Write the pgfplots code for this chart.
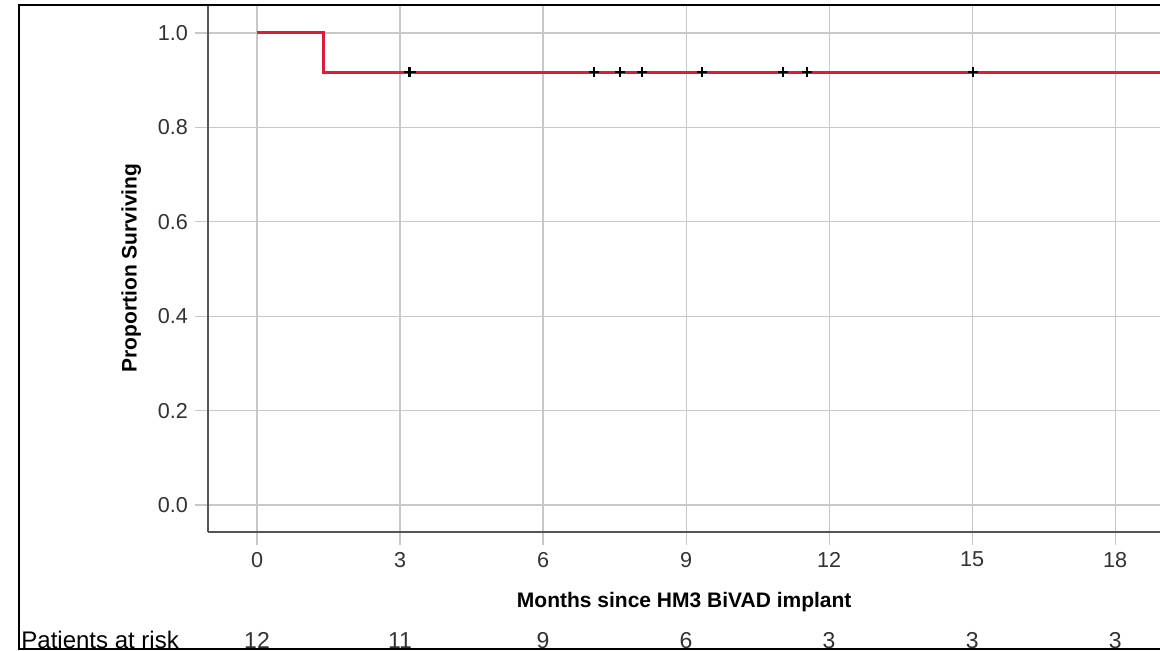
\documentclass[border=0pt]{standalone}
\usepackage{pgfplots}
\pgfplotsset{compat=1.18}
\usepackage{fontspec}
\setmainfont{Liberation Sans}
\definecolor{kmred}{RGB}{218,30,58}
\definecolor{gridgray}{RGB}{200,200,200}
\definecolor{axgray}{RGB}{85,85,85}
\definecolor{txtgray}{RGB}{50,50,50}
\begin{document}
\begin{tikzpicture}
\begin{axis}[
  at={(0,0)}, anchor=south west,
  scale only axis, width=476pt, height=263.5pt,
  xmin=-1.028, xmax=18.94, ymin=-0.0572, ymax=1.0593,
  axis x line*=bottom, axis y line*=left,
  axis line style={axgray, line width=1pt, -},
  xtick={0,3,...,18}, ytick={0,0.2,...,1.0},
  yticklabel={\pgfmathprintnumber[fixed,fixed zerofill,precision=1]{\tick}},
  /pgf/number format/assume math mode=true,
  grid=major, major grid style={gridgray, line width=0.6pt},
  tick align=outside, major tick length=6.5pt,
  tick style={gridgray, line width=0.6pt},
  tick label style={font=\fontsize{10.8}{12}\selectfont, text=txtgray},
  clip=false,
]
% survival curve
\addplot[const plot, kmred, line width=1.5pt] coordinates {(0,1) (1.385,0.9167) (18.94,0.9167)};
% censored
\addplot[only marks, mark=+, mark size=2.5pt, black, mark options={line width=0.9pt}] coordinates {
(3.18,0.9167) (3.22,0.9167) (7.06,0.9167) (7.62,0.9167) (8.08,0.9167) (9.33,0.9167) (11.04,0.9167) (11.53,0.9167) (15.01,0.9167)};
% labels
\node[rotate=90, font=\bfseries\fontsize{10.5}{12}\selectfont] at (axis cs:-2.64,0.502) {Proportion Surviving};
\node[anchor=base, font=\bfseries\fontsize{10.5}{12}\selectfont] at (axis cs:8.96,-0.218) {Months since HM3 BiVAD implant};
% number at risk
\node[anchor=base west, inner sep=0pt, font=\fontsize{12}{13}\selectfont] at (axis cs:-4.95,-0.303) {Patients at risk};
\node[anchor=base, font=\fontsize{11.5}{12}\selectfont, text=txtgray] at (axis cs:0,-0.303) {12};
\node[anchor=base, font=\fontsize{11.5}{12}\selectfont, text=txtgray] at (axis cs:3,-0.303) {11};
\node[anchor=base, font=\fontsize{11.5}{12}\selectfont, text=txtgray] at (axis cs:6,-0.303) {9};
\node[anchor=base, font=\fontsize{11.5}{12}\selectfont, text=txtgray] at (axis cs:9,-0.303) {6};
\node[anchor=base, font=\fontsize{11.5}{12}\selectfont, text=txtgray] at (axis cs:12,-0.303) {3};
\node[anchor=base, font=\fontsize{11.5}{12}\selectfont, text=txtgray] at (axis cs:15,-0.303) {3};
\node[anchor=base, font=\fontsize{11.5}{12}\selectfont, text=txtgray] at (axis cs:18,-0.303) {3};
\end{axis}
\pgfresetboundingbox
\useasboundingbox (-104pt,-59.5pt) rectangle (476pt,266pt);
\draw[black, line width=1pt] (480pt,263.5pt) -- (-94.5pt,263.5pt) -- (-94.5pt,-58.5pt) -- (480pt,-58.5pt);
\end{tikzpicture}
\end{document}
